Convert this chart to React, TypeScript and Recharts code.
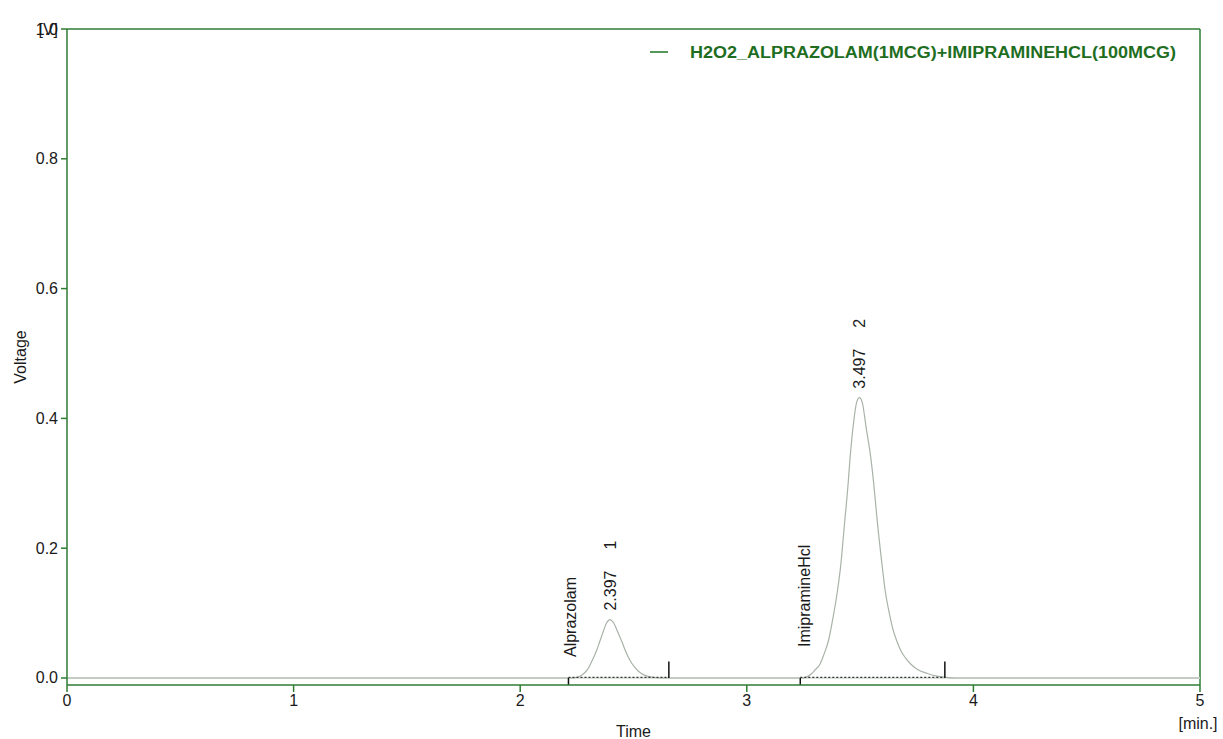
import React from "react";
import {
  ComposedChart,
  Line,
  XAxis,
  YAxis,
  ReferenceLine,
  ReferenceDot,
  Legend,
} from "recharts";

// ---- data ----
const seriesName = "H2O2_ALPRAZOLAM(1MCG)+IMIPRAMINEHCL(100MCG)";

const baselineTimes = [0, 2.0, 3.0, 4.2, 5];
const baselineVoltages = [0, 0, 0, 0, 0];

const alprazolamTimes = [2.22, 2.25, 2.269, 2.29, 2.304, 2.32, 2.338, 2.35, 2.363, 2.38, 2.397, 2.41, 2.434, 2.45, 2.463, 2.48, 2.504, 2.53, 2.551, 2.58, 2.62];
const alprazolamVoltages = [0, 0.001, 0.004, 0.01, 0.017, 0.029, 0.043, 0.055, 0.068, 0.084, 0.09, 0.086, 0.068, 0.055, 0.043, 0.03, 0.017, 0.008, 0.004, 0.0015, 0];

const imipramineTimes = [3.24, 3.26, 3.287, 3.3, 3.324, 3.34, 3.36, 3.38, 3.4, 3.415, 3.431, 3.445, 3.456, 3.47, 3.485, 3.497, 3.51, 3.527, 3.547, 3.56, 3.577, 3.595, 3.611, 3.63, 3.645, 3.662, 3.68, 3.7, 3.722, 3.75, 3.797, 3.84, 3.88, 3.92];
const imipramineVoltages = [0, 0.001, 0.007, 0.012, 0.022, 0.036, 0.057, 0.092, 0.134, 0.175, 0.237, 0.29, 0.34, 0.39, 0.425, 0.432, 0.424, 0.385, 0.34, 0.3, 0.237, 0.18, 0.134, 0.098, 0.075, 0.057, 0.042, 0.031, 0.022, 0.014, 0.007, 0.003, 0.001, 0];

const peakNames = ["Alprazolam", "ImipramineHcl"];
const peakTimes = [2.397, 3.497];
const peakHeights = [0.09, 0.432];
const peakNumbers = ["1", "2"];
const integrationStarts = [2.213, 3.236];
const integrationEnds = [2.656, 3.874];

const xTicks = [0, 1, 2, 3, 4, 5];
const yTicks = [0, 0.2, 0.4, 0.6, 0.8, 1.0];

// ---- build table ----
const pts: { t: number; v: number }[] = [];
baselineTimes.forEach((t, i) => pts.push({ t, v: baselineVoltages[i] }));
alprazolamTimes.forEach((t, i) => pts.push({ t, v: alprazolamVoltages[i] }));
imipramineTimes.forEach((t, i) => pts.push({ t, v: imipramineVoltages[i] }));
const data = pts.sort((a, b) => a.t - b.t);

const GREEN = "#2e7d32";
const LEGEND_GREEN = "#1f6e1f";
const TEXT = "#1a1a1a";
const FONT = "'Liberation Sans', Arial, sans-serif";
const Y_MIN = -0.0108;
const TICK_UP = 0.0254;

const YTick = (props: any) => {
  const { x, y, payload } = props;
  return (
    <g>
      <text x={x} y={y} textAnchor="end" dominantBaseline="central" fontSize={16} fill={TEXT} fontFamily={FONT}>
        {Number(payload.value).toFixed(1)}
      </text>
      {payload.value === 1 && (
        <text x={x} y={y} textAnchor="end" dominantBaseline="central" fontSize={16} fill={TEXT} fontFamily={FONT}>
          [V]
        </text>
      )}
    </g>
  );
};

const XTick = (props: any) => {
  const { x, y, payload } = props;
  return (
    <text x={x} y={y} textAnchor="middle" dy="0.75em" fontSize={16} fill={TEXT} fontFamily={FONT}>
      {payload.value}
    </text>
  );
};

const XLabel = (props: any) => {
  const vb = props.viewBox;
  return (
    <g fontFamily={FONT} fontSize={16} fill={TEXT}>
      <text x={vb.x + vb.width / 2} y={vb.y + 46} textAnchor="middle" dominantBaseline="central">Time</text>
      <text x={vb.x + vb.width - 2} y={vb.y + 38} textAnchor="middle" dominantBaseline="central">[min.]</text>
    </g>
  );
};

const YLabel = () => (
  <text x={20} y={357} transform="rotate(-90 20 357)" textAnchor="middle" dominantBaseline="central" fontSize={16} fill={TEXT} fontFamily={FONT}>
    Voltage
  </text>
);

const RotLabel = (text: string, dx: number, dy: number) => (props: any) => {
  const vb = props.viewBox;
  const x = vb.x + dx;
  const y = vb.y + dy;
  return (
    <text x={x} y={y} transform={`rotate(-90 ${x} ${y})`} textAnchor="start" dominantBaseline="central" fontSize={16} fill={TEXT} fontFamily={FONT}>
      {text}
    </text>
  );
};

const nameOffsets = [
  [2.5, -21],
  [4.5, -31],
];

const LegendContent = () => (
  <svg width={560} height={22} style={{ display: "block" }}>
    <line x1={5} x2={23} y1={11} y2={11} stroke={GREEN} strokeWidth={1.6} />
    <text x={45} y={11} dominantBaseline="central" fontWeight="bold" fontSize={16} fill={LEGEND_GREEN} fontFamily={FONT} textLength={486} lengthAdjust="spacingAndGlyphs">
      {seriesName}
    </text>
  </svg>
);

export default function App() {
  return (
    <div style={{ position: "absolute", left: 0, top: 0, width: 1223, height: 739, background: "#fff" }}>
      <ComposedChart
        width={1223}
        height={739}
        data={data}
        margin={{ top: 29, right: 23, bottom: 0, left: 0 }}
        style={{ fontFamily: FONT }}
      >
        <XAxis
          dataKey="t"
          type="number"
          domain={[0, 5]}
          ticks={xTicks}
          allowDataOverflow
          height={54}
          stroke={GREEN}
          strokeWidth={1.5}
          tickSize={7}
          tickMargin={2}
          tickLine={{ stroke: GREEN, strokeWidth: 1.5 }}
          tick={<XTick />}
          label={{ content: <XLabel /> }}
        />
        <YAxis
          type="number"
          domain={[Y_MIN, 1]}
          ticks={yTicks}
          allowDataOverflow
          width={67}
          stroke={GREEN}
          strokeWidth={1.5}
          tickSize={6}
          tickMargin={3}
          tickLine={{ stroke: GREEN, strokeWidth: 1.5 }}
          tick={<YTick />}
          label={{ content: <YLabel /> }}
        />
        <ReferenceLine y={1} stroke={GREEN} strokeWidth={1.5} />
        <ReferenceLine x={5} stroke={GREEN} strokeWidth={1.5} />
        <ReferenceLine y={0} stroke="#dde2dd" strokeWidth={2} />
        <Line
          dataKey="v"
          name={seriesName}
          type="monotone"
          stroke="#a9b3a9"
          strokeWidth={1.2}
          dot={false}
          isAnimationActive={false}
        />
        {integrationStarts.map((s, i) => (
          <ReferenceLine
            key={`bl${i}`}
            segment={[{ x: s, y: 0.0008 }, { x: integrationEnds[i], y: 0.0008 }]}
            stroke="#333"
            strokeWidth={1.3}
            strokeDasharray="2 2"
          />
        ))}
        {integrationStarts.map((s, i) => (
          <ReferenceLine
            key={`st${i}`}
            segment={[{ x: s, y: 0 }, { x: s, y: Y_MIN }]}
            stroke="#111"
            strokeWidth={1.5}
          />
        ))}
        {integrationEnds.map((e, i) => (
          <ReferenceLine
            key={`en${i}`}
            segment={[{ x: e, y: 0 }, { x: e, y: TICK_UP }]}
            stroke="#111"
            strokeWidth={1.5}
          />
        ))}
        {peakNames.map((n, i) => (
          <ReferenceDot
            key={`nm${i}`}
            x={integrationStarts[i]}
            y={0}
            r={0}
            stroke="none"
            fill="none"
            label={{ content: RotLabel(n, nameOffsets[i][0], nameOffsets[i][1]) }}
          />
        ))}
        {peakTimes.map((t, i) => (
          <ReferenceDot
            key={`pt${i}`}
            x={t}
            y={peakHeights[i]}
            r={0}
            stroke="none"
            fill="none"
            label={{ content: RotLabel(t.toFixed(3), 0, -9) }}
          />
        ))}
        {peakTimes.map((t, i) => (
          <ReferenceDot
            key={`pn${i}`}
            x={t}
            y={peakHeights[i]}
            r={0}
            stroke="none"
            fill="none"
            label={{ content: RotLabel(peakNumbers[i], 0, -70) }}
          />
        ))}
        <Legend
          layout="vertical"
          verticalAlign="middle"
          align="center"
          content={<LegendContent />}
          wrapperStyle={{ left: 645, top: 41, width: 560 }}
        />
      </ComposedChart>
    </div>
  );
}
